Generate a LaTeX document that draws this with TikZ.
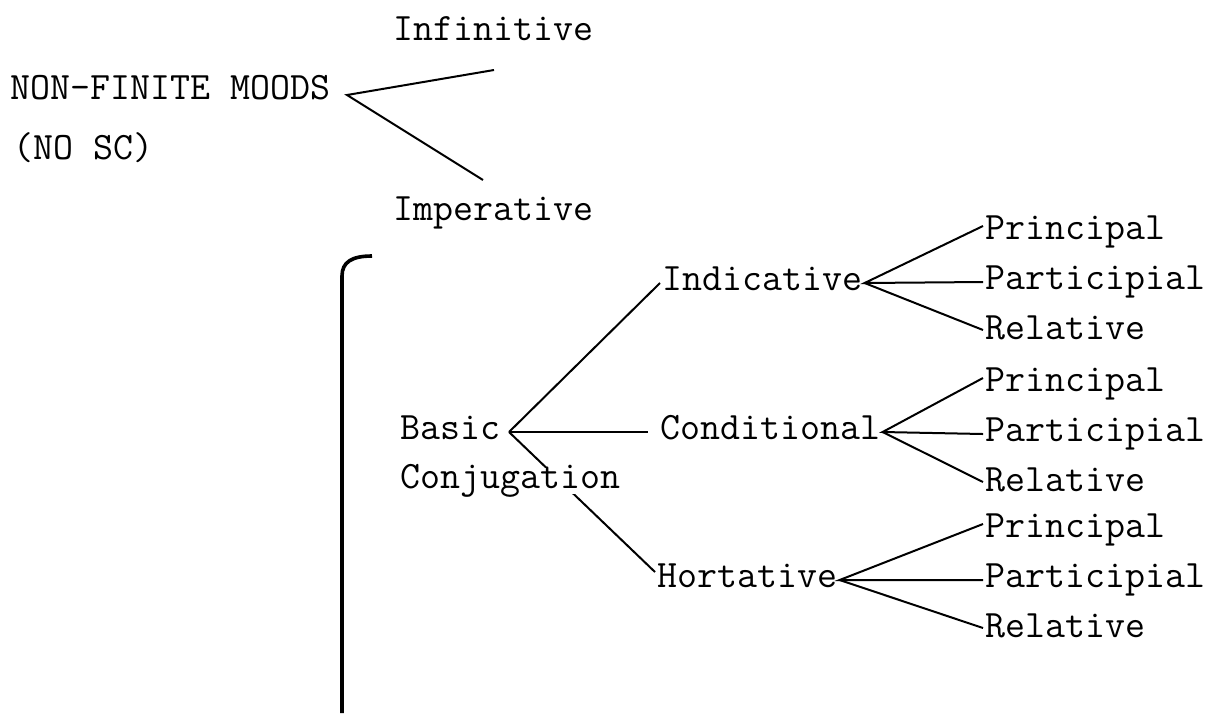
\documentclass[tikz,border=0pt]{standalone}
\usetikzlibrary{positioning}
\begin{document}
\begin{tikzpicture}[x=0.5pt,y=-0.5pt,
    lbl/.style={font=\ttfamily\fontsize{19.4}{22}\selectfont, anchor=west,
      inner sep=1pt, text height=0.7em, text depth=0em},
    branch/.style={line width=1pt},
  ]
  \useasboundingbox (0,0) rectangle (1225,713);

  % Top: non-finite moods
  \node[lbl] (nonfin) at (8,92) {NON-FINITE MOODS};
  \node[lbl] (nosc) at (11,152) {(NO SC)};
  \node[lbl] (infin) at (391,33) {Infinitive};
  \node[lbl] (imper) at (391,213) {Imperative};
  \coordinate (nfroot) at (347,95);
  \coordinate (infend) at (494,70);
  \coordinate (impend) at (483,180);
  \draw[branch] (infend) -- (nfroot) -- (impend);

  % Bracket
  \draw[line width=1.8pt] (342,713) -- (342,276)
    .. controls (342,262) and (352,256) .. (372,256);

  % Basic conjugation
  \node[lbl] (basic) at (398,432) {Basic};
  \coordinate (bcroot) at (509,432);
  \node[lbl] (indic) at (660,283) {Indicative};
  \node[lbl] (condi) at (658,432) {Conditional};
  \node[lbl] (horta) at (655,580) {Hortative};
  \draw[branch] (bcroot) -- (indic.west);
  \draw[branch, shorten >=5pt] (bcroot) -- (condi.west);
  \draw[branch] (bcroot) -- ([yshift=4pt]horta.west);
  \node[lbl, fill=white, inner ysep=3pt] (conj) at (398,481) {Conjugation};

  % Leaves
  \foreach \m/\y in {indic/232, condi/384, horta/530} {
    \node[lbl] (\m-prin) at (983,\y) {Principal};
    \node[lbl] (\m-part) at (983,\y+50) {Participial};
    \node[lbl] (\m-rel) at (983,\y+100) {Relative};
    \draw[branch] ([yshift=3pt]\m-prin.west) -- (\m.east)
      -- (\m-part.west);
    \draw[branch] (\m.east) -- ([yshift=1pt]\m-rel.west);
  }
\end{tikzpicture}
\end{document}
